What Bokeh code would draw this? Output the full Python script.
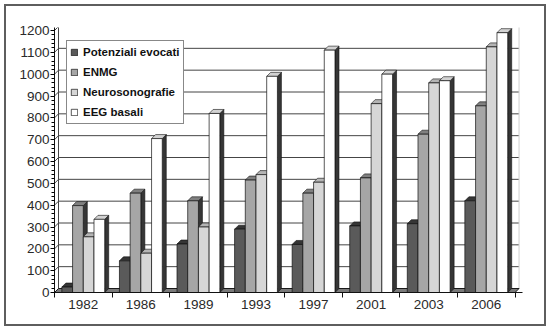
from bokeh.plotting import figure
from bokeh.models import Range1d, FixedTicker, Legend, LegendItem, ColumnDataSource
from bokeh.embed import file_html
from bokeh.resources import INLINE

# ---- data ----
years = ["1982", "1986", "1989", "1993", "1997", "2001", "2003", "2006"]
potenziali = [25, 145, 222, 290, 220, 305, 315, 420]
enmg = [398, 455, 420, 515, 455, 525, 725, 855]
neuro = [255, 180, 300, 540, 505, 865, 960, 1125]
eeg = [335, 705, 820, 990, 1110, 1000, 970, 1190]
series_names = ["Potenziali evocati", "ENMG", "Neurosonografie", "EEG basali"]
y_ticks = list(range(0, 1201, 100))

series = [potenziali, enmg, neuro, eeg]
front_colors = ["#5a5a5a", "#a6a6a6", "#d6d6d6", "#ffffff"]
top_colors = ["#353535", "#808080", "#b4b4b4", "#d2d2d2"]
side_colors = ["#2a2a2a", "#363636", "#363636", "#363636"]

# ---- layout ----
W, H = 550, 330
ML, MT = 54, 27
frame_w, frame_h = 468, 265
MR = W - ML - frame_w
MB = H - MT - frame_h
cat_px = 57.57
x_end = frame_w / cat_px
y_end = 1200 * frame_h / 262.0
ux = 1.0 / cat_px
uy = y_end / frame_h
depth = 4
dx = depth * ux
dy = depth * uy
n = len(years)

p = figure(width=W, height=H, output_backend="svg", toolbar_location=None,
           x_range=Range1d(0, x_end), y_range=Range1d(0, y_end),
           min_border_left=ML, min_border_right=MR, min_border_top=MT, min_border_bottom=MB)
p.xgrid.visible = False
p.ygrid.visible = False
p.outline_line_color = None
p.background_fill_color = "white"
p.border_fill_color = "white"
# outer frame of the picture (drawn over the canvas)
p.stylesheets = [
    ":host { position: relative; }"
    ":host::after { content: ''; position: absolute; left: 4px; top: 4px; width: 538px; height: 318px;"
    " border: 2px solid #5e5e5e; box-sizing: content-box; pointer-events: none; z-index: 50; }"
]

# walls / grid
gx, gy = [], []
for t in y_ticks:
    gx.append([0, dx, n + dx])
    gy.append([t, t + dy, t + dy])
p.multi_line(gx, gy, line_color="#454545", line_width=1)
p.line([dx, dx], [dy, y_ticks[-1] + dy], line_color="#454545", line_width=1)
p.line([n + dx, n + dx], [dy, y_ticks[-1] + dy], line_color="#cfcfcf", line_width=1)
# floor
p.patch([0, n, n + dx, dx], [0, 0, dy, dy], fill_color="#7a7a7a", line_color="#1a1a1a", line_width=1)

# bars
bw = 0.186
renderers = []
for j, vals in enumerate(series):
    lefts = [i + 0.5 + (j - 2) * bw for i in range(n)]
    rights = [l + bw for l in lefts]
    src = ColumnDataSource(dict(left=lefts, right=rights, top=vals, bottom=[0] * n))
    tx = [[l, r, r + dx, l + dx] for l, r in zip(lefts, rights)]
    ty = [[v, v, v + dy, v + dy] for v in vals]
    sx = [[r, r + dx, r + dx, r] for r in rights]
    sy = [[0, dy, v + dy, v] for v in vals]
    p.patches(sx, sy, fill_color=side_colors[j], line_color="#111111", line_width=0.6)
    p.patches(tx, ty, fill_color=top_colors[j], line_color="#111111", line_width=0.6)
    r = p.quad(left="left", right="right", top="top", bottom="bottom", source=src,
               fill_color=front_colors[j], line_color="#111111", line_width=0.7)
    renderers.append(r)

# axes
font = "Liberation Sans"
p.yaxis.ticker = FixedTicker(ticks=y_ticks, minor_ticks=list(range(0, 1201, 20)))
p.yaxis.axis_line_color = "#111111"
p.yaxis.major_tick_out = 4
p.yaxis.major_tick_in = 0
p.yaxis.minor_tick_out = 3
p.yaxis.minor_tick_in = 0
p.yaxis.major_label_text_font = font
p.yaxis.major_label_text_font_size = "13.5px"
p.yaxis.major_label_text_color = "#2a2a2a"
p.yaxis.major_label_standoff = 1

centers = [i + 0.5 for i in range(n)]
p.xaxis.ticker = FixedTicker(ticks=centers, minor_ticks=list(range(n + 1)))
p.xaxis.major_label_overrides = {c: y for c, y in zip(centers, years)}
p.xaxis.axis_line_color = "#111111"
p.xaxis.major_tick_out = 0
p.xaxis.major_tick_in = 0
p.xaxis.minor_tick_out = 5
p.xaxis.minor_tick_in = 0
p.xaxis.minor_tick_line_color = "#111111"
p.xaxis.major_label_text_font = font
p.xaxis.major_label_text_font_size = "13.5px"
p.xaxis.major_label_text_color = "#2a2a2a"
p.xaxis.major_label_standoff = 2

legend = Legend(items=[LegendItem(label=nm, renderers=[r]) for nm, r in zip(series_names, renderers)],
                location=(12, 168))
legend.label_text_font = font
legend.label_text_font_style = "bold"
legend.label_text_font_size = "11.5px"
legend.label_text_color = "#111111"
legend.glyph_width = 8
legend.glyph_height = 8
legend.label_standoff = 5
legend.label_height = 16
legend.spacing = 4
legend.padding = 3
legend.margin = 0
legend.border_line_color = "#111111"
legend.border_line_width = 1
legend.background_fill_alpha = 1
p.add_layout(legend, "center")

open("out.html", "w").write(file_html(p, INLINE))
